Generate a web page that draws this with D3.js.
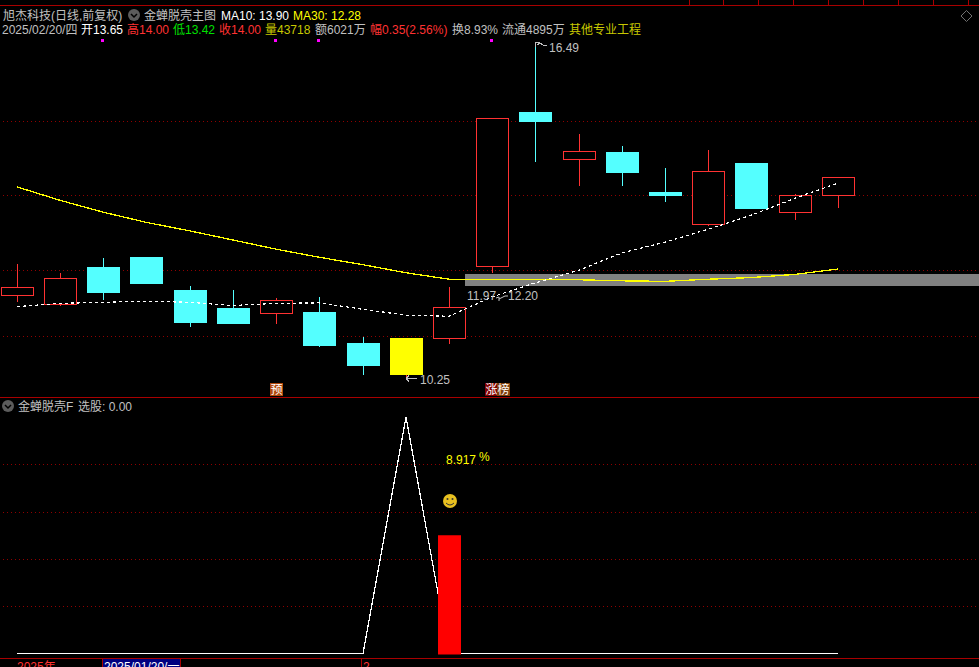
<!DOCTYPE html>
<html>
<head>
<meta charset="utf-8">
<style>
  html, body { margin: 0; padding: 0; background: #000; overflow: hidden; }
  text { font-family: "Liberation Sans", "Noto Sans CJK SC", sans-serif; font-size: 12px; }
</style>
<script src="https://cdn.jsdelivr.net/npm/d3@7"></script>
</head>
<body>
<svg id="chart" width="979" height="667"></svg>
<script>
const opens  = [11.78,11.60,12.32,12.50,11.89,11.55,11.43,11.48,10.90,11.00,10.98,12.31,15.20,14.30,14.46,13.71,13.09,14.25,13.32,13.65];
const closes = [11.94,12.11,11.83,12.00,11.27,11.26,11.70,10.85,10.47,10.32,11.58,15.09,15.02,14.47,14.07,13.64,14.10,13.40,13.65,14.00];
const highs  = [12.37,12.20,12.48,12.50,11.96,11.89,11.74,11.76,11.01,11.00,11.94,15.09,16.49,14.79,14.57,14.16,14.50,14.25,13.68,14.00];
const lows   = [11.67,11.60,11.70,12.00,11.20,11.26,11.26,10.83,10.31,10.25,10.88,12.21,14.27,13.82,13.82,13.53,13.09,13.40,13.19,13.42];
const ma10   = [11.58,11.64,11.66,11.68,11.66,11.60,11.64,11.65,11.53,11.42,11.40,11.76,12.02,12.26,12.58,12.78,13.02,13.28,13.60,13.88];
const ma30   = [13.81,13.56,13.34,13.15,12.99,12.82,12.65,12.50,12.36,12.21,12.09,12.09,12.08,12.08,12.06,12.05,12.09,12.12,12.18,12.28];
const priceTicks = [15.03,13.65,12.27,11.04];
const bandRange = [11.97,12.20];
const markerDays = [2,6,7,11];
const signal = [0,0,0,0,0,0,0,0,0,1,0,0,0,0,0,0,0,0,0,0];
const signalBars = [0,0,0,0,0,0,0,0,0,0,0.5,0,0,0,0,0,0,0,0,0];
const signalTicks = [0.2,0.4,0.6,0.8];

const svg = d3.select("#chart");
const gridRed = "#900000", lineRed = "#a80000", up = "#ff3232", down = "#54ffff";
const grayText = "#c0c0c0";

// 主图 / 副图 共用一个 x
const x = d3.scaleBand().domain(d3.range(20)).range([-4.3, 860]);
const cx = i => Math.floor(x(i) + x.bandwidth() / 2);
const y = d3.scaleLinear().domain([10.25, 16.49]).range([378, 43]);
const y2 = d3.scaleLinear().domain([0, 1]).range([653.5, 417]);
const bodyW = 32;

svg.append("rect").attr("width", 979).attr("height", 667).attr("fill", "#000");

function dotted(ys) {
  svg.append("g").selectAll("line").data(ys).enter().append("line")
    .attr("x1", 3).attr("x2", 979)
    .attr("y1", d => Math.round(d) + 0.5).attr("y2", d => Math.round(d) + 0.5)
    .attr("stroke", gridRed).attr("stroke-dasharray", "1 3")
    .attr("shape-rendering", "crispEdges");
}
dotted(priceTicks.map(y));
dotted(signalTicks.map(y2));

// 灰色区间
svg.append("rect")
  .attr("x", 465).attr("width", 514)
  .attr("y", Math.ceil(y(bandRange[1]))).attr("height", Math.round(y(bandRange[0]) - y(bandRange[1])))
  .attr("fill", "#808080");

// k线
const days = d3.range(20);
svg.append("g").selectAll("line").data(days).enter().append("line")
  .attr("x1", i => cx(i) + 0.5).attr("x2", i => cx(i) + 0.5)
  .attr("y1", i => y(highs[i])).attr("y2", i => y(lows[i]))
  .attr("stroke", i => closes[i] >= opens[i] || i === 9 ? up : down)
  .attr("shape-rendering", "crispEdges");

svg.append("g").selectAll("rect").data(days).enter().append("rect")
  .attr("x", i => cx(i) - bodyW / 2 + 0.5)
  .attr("width", bodyW)
  .attr("y", i => Math.round(y(Math.max(opens[i], closes[i]))) + 0.5)
  .attr("height", i => Math.max(1, Math.round(y(Math.min(opens[i], closes[i])) - y(Math.max(opens[i], closes[i]))) - 1))
  .attr("fill", i => closes[i] >= opens[i] ? "#000" : (i === 9 ? "#ffff00" : down))
  .attr("stroke", i => closes[i] >= opens[i] ? up : (i === 9 ? "#ffff00" : down))
  .attr("shape-rendering", "crispEdges");

const priceLine = d3.line().x((d, i) => cx(i)).y(d => y(d));
svg.append("path").attr("d", priceLine(ma30)).attr("fill", "none").attr("stroke", "#ffff00").attr("stroke-width", 1.3).attr("shape-rendering", "crispEdges");
svg.append("path").attr("d", priceLine(ma10)).attr("fill", "none").attr("stroke", "#fff").attr("stroke-width", 1.2).attr("stroke-dasharray", "3 3").attr("shape-rendering", "crispEdges");

// 顶部的紫色小点
svg.append("g").selectAll("rect").data(markerDays).enter().append("rect")
  .attr("x", d => cx(d) - 2).attr("y", 39).attr("width", 3).attr("height", 3).attr("fill", "#ff00ff");

// 标注
svg.append("path").attr("d", "M535.5 47V42h4M537 45l3-2 3 2 4 1").attr("fill", "none").attr("stroke", grayText).attr("shape-rendering", "crispEdges");
svg.append("text").attr("x", 549).attr("y", 52).attr("fill", grayText).text("16.49");
svg.append("path").attr("d", `M${cx(9)} 378.5h11M${cx(9)} 378.5l3-3M${cx(9)} 378.5l3 3`).attr("fill", "none").attr("stroke", grayText).attr("shape-rendering", "crispEdges");
svg.append("text").attr("x", 420).attr("y", 384).attr("fill", grayText).text("10.25");
svg.append("text").attr("x", 467).attr("y", 300).attr("fill", grayText).text("11.97");
svg.append("path").attr("d", "M496 298l3-1v4M499 299l6-3h3").attr("fill", "none").attr("stroke", grayText);
svg.append("text").attr("x", 508).attr("y", 300).attr("fill", grayText).text("12.20");

function tag(px, label, color) {
  svg.append("rect").attr("x", px).attr("y", 383).attr("width", 13).attr("height", 13).attr("fill", color);
  svg.append("text").attr("x", px + 0.5).attr("y", 394).attr("fill", "#fff").text(label);
}
tag(270, "预", "#b0480c");
tag(485, "涨", "#800000");
tag(497, "榜", "#80400c");

// 表头
const headerText = ["旭杰科技(日线,前复权)","金蝉脱壳主图","MA10: 13.90","MA30: 12.28"];
const headerX = [3,144,221,293];
const headerColor = [grayText,grayText,"#fff","#ffff00"];
svg.append("g").selectAll("text").data(headerText).enter().append("text")
  .attr("x", (d, i) => headerX[i]).attr("y", 20).attr("fill", (d, i) => headerColor[i]).text(d => d);

const infoText = ["2025/02/20/四","开","13.65","高","14.00","低","13.42","收","14.00","量","43718","额","6021万","幅","0.35(2.56%)","换","8.93%","流通","4895万","其他专业工程"];
const infoX = [2,81,93,127,139,173,185,219,231,265,277,315,327,370,382,452,464,502,526,569];
const infoColor = [grayText,"#fff","#fff",up,up,"#00e000","#00e000",up,up,"#c8c800","#c8c800",grayText,grayText,up,up,grayText,grayText,grayText,grayText,"#c8c800"];
svg.append("g").selectAll("text").data(infoText).enter().append("text")
  .attr("x", (d, i) => infoX[i]).attr("y", 34).attr("fill", (d, i) => infoColor[i]).text(d => d);

function chevron(cxp, cyp) {
  svg.append("circle").attr("cx", cxp).attr("cy", cyp).attr("r", 6).attr("fill", "#5c5c5c");
  svg.append("path").attr("d", `M${cxp-3} ${cyp-1}l3 3 3-3`).attr("fill", "none").attr("stroke", "#000").attr("stroke-width", 1.5);
}
chevron(134, 15);
chevron(8, 406);
svg.append("text").attr("x", 18).attr("y", 411).attr("fill", grayText).text("金蝉脱壳F");
svg.append("text").attr("x", 78).attr("y", 411).attr("fill", grayText).text("选股: 0.00");

// 右上角的小菱形
svg.append("path").attr("d", "M966.5 10.5l5.5 5.5-5.5 5.5-5.5-5.5z").attr("fill", "none").attr("stroke", "#707070");

// 分隔线
[5.5, 397.5, 658.5].forEach(v => svg.append("line").attr("x1", 0).attr("x2", 979).attr("y1", v).attr("y2", v).attr("stroke", lineRed));
[689.5, 723.5, 758.5, 793.5, 828.5, 863.5, 898.5, 933.5, 968.5].forEach(v => svg.append("line").attr("x1", v).attr("x2", v).attr("y1", 0).attr("y2", 5).attr("stroke", lineRed));

// 副图
svg.append("path")
  .attr("d", d3.line().x((d, i) => cx(i)).y(d => y2(d))(signal))
  .attr("fill", "none").attr("stroke", "#fff").attr("stroke-width", 1.2).attr("shape-rendering", "crispEdges");
svg.append("g").selectAll("rect").data(signalBars).enter().append("rect")
  .filter(d => d > 0)
  .attr("x", 438).attr("width", 23)
  .attr("y", d => y2(d)).attr("height", d => y2(0) - y2(d) + 1)
  .attr("fill", "#ff0000");
svg.append("text").attr("x", 446).attr("y", 464).attr("fill", "#ffff00").text("8.917");
svg.append("text").attr("x", 479).attr("y", 461).attr("fill", "#ffff00").text("%");

// 笑脸
svg.append("circle").attr("cx", 450).attr("cy", 501).attr("r", 7).attr("fill", "#e8c020");
svg.append("circle").attr("cx", 447.5).attr("cy", 499).attr("r", 1).attr("fill", "#333");
svg.append("circle").attr("cx", 452.5).attr("cy", 499).attr("r", 1).attr("fill", "#333");
svg.append("path").attr("d", "M446 503q4 4 8 0").attr("fill", "none").attr("stroke", "#333");

// 底部日期栏
svg.append("rect").attr("x", 103).attr("y", 659).attr("width", 77).attr("height", 8).attr("fill", "#000080");
svg.append("text").attr("x", 17).attr("y", 671).attr("fill", "#ff3232").text("2025年");
svg.append("text").attr("x", 104).attr("y", 671).attr("fill", "#fff").text("2025/01/20/一");
[102.5, 180.5, 361.5].forEach(v => svg.append("line").attr("x1", v).attr("x2", v).attr("y1", 658).attr("y2", 667).attr("stroke", lineRed));
svg.append("text").attr("x", 363).attr("y", 671).attr("fill", "#ff3232").text("2");
</script>
</body>
</html>
